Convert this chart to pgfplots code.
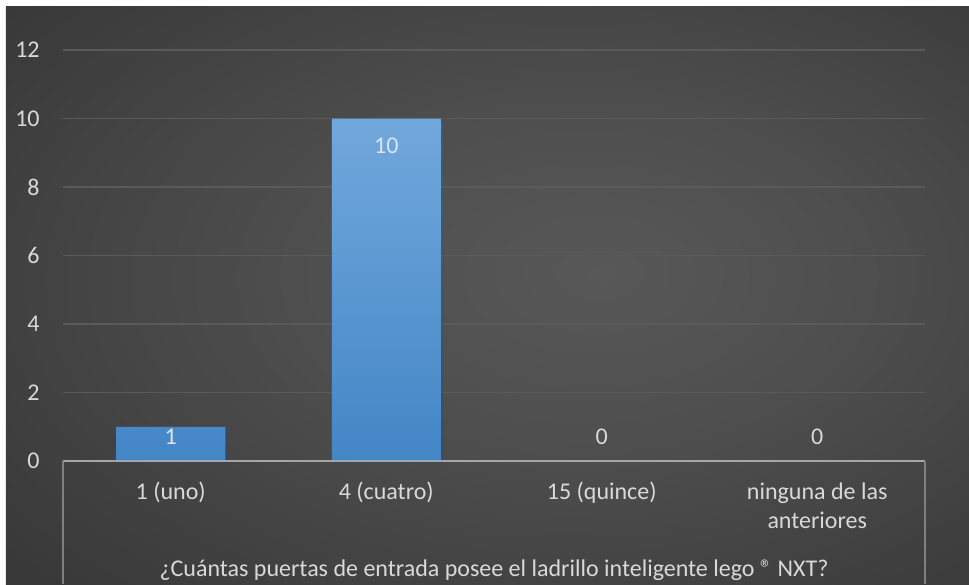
\documentclass[border=0pt]{standalone}
\usepackage{fontspec}
\setmainfont{Carlito}
\usepackage{pgfplots}
\pgfplotsset{compat=1.18}
\pgfplotsset{/pgf/number format/assume math mode=true}

\definecolor{bgA}{HTML}{585858}
\definecolor{bgB}{HTML}{4E4E4E}
\definecolor{bgC}{HTML}{2C2C2C}
\definecolor{bgD}{HTML}{242424}
\definecolor{bartop}{HTML}{71A8DC}
\definecolor{barbot}{HTML}{4386C6}
\definecolor{gridc}{HTML}{5A5A5A}
\definecolor{axisc}{HTML}{A6A6A6}
\definecolor{boxc}{HTML}{808080}
\definecolor{txt}{HTML}{D9D9D9}
\definecolor{barlbl}{HTML}{DCE5EF}

% soft spotlight behind the plot area
\pgfdeclareradialshading{chartbg}{\pgfpoint{6bp}{2bp}}{%
  color(0bp)=(bgA); color(15bp)=(bgB); color(50bp)=(bgC); color(75bp)=(bgD)}

\newcommand{\lbl}{\fontsize{12}{14.5}\selectfont}

\begin{document}
\begin{tikzpicture}
  % page and chart area
  \fill[white] (-31.5pt,-61.5pt) rectangle (453pt,230.5pt);
  \shade[shading=chartbg] (-28.5pt,-61.5pt) rectangle (453pt,227pt);

  \begin{axis}[
    at={(0,0)}, anchor=south west,
    scale only axis, width=431pt, height=205.5pt,
    xmin=-0.5, xmax=3.5, ymin=0, ymax=12,
    xtick={0,1,2,3}, ytick={0,2,...,12},
    xticklabels={1 (uno), 4 (cuatro), 15 (quince), {ninguna de las\\anteriores}},
    xticklabel style={align=center, anchor=north, inner sep=0pt, yshift=-10.5pt,
      font=\lbl, text=txt},
    yticklabel style={anchor=east, inner sep=0pt, xshift=-11.5pt,
      font=\lbl, text=txt},
    major tick length=0pt, tick style={draw=none},
    axis line style={draw=none},
    ymajorgrids, grid style={gridc, line width=0.9pt},
    xlabel={¿Cuántas puertas de entrada posee el ladrillo inteligente lego ® NXT?},
    xlabel style={at={(axis description cs:0.5,0)}, anchor=center,
      yshift=-54.5pt, font=\lbl, text=txt},
    clip=false,
  ]
    % answers with at least one vote
    \addplot[ybar, bar width=54.5pt, bar shift=0pt, draw=none,
      top color=bartop, bottom color=barbot,
      preaction={fill=black, fill opacity=0.3,
        transform canvas={xshift=1.2pt, yshift=-1pt}},
      visualization depends on={rawy \as \rawy},
      nodes near coords,
      nodes near coords style={anchor=center, text=barlbl, font=\lbl,
        yshift={ifthenelse(\rawy>5,-13.75,-5)}},
    ] coordinates {(0,1) (1,10)};
    % answers with no votes
    \addplot[draw=none, mark=none,
      nodes near coords,
      nodes near coords style={anchor=center, text=txt, font=\lbl, yshift=12pt},
    ] coordinates {(2,0) (3,0)};
  \end{axis}

  % category axis and its frame
  \draw[axisc, line width=1pt] (0,0) -- (431pt,0);
  \draw[boxc, line width=1pt] (0,0) -- (0,-61.5pt);
  \draw[boxc, line width=1pt] (431pt,0) -- (431pt,-61.5pt);

  \pgfresetboundingbox
  \useasboundingbox (-31.5pt,-61.5pt) rectangle (453pt,230.5pt);
\end{tikzpicture}
\end{document}
